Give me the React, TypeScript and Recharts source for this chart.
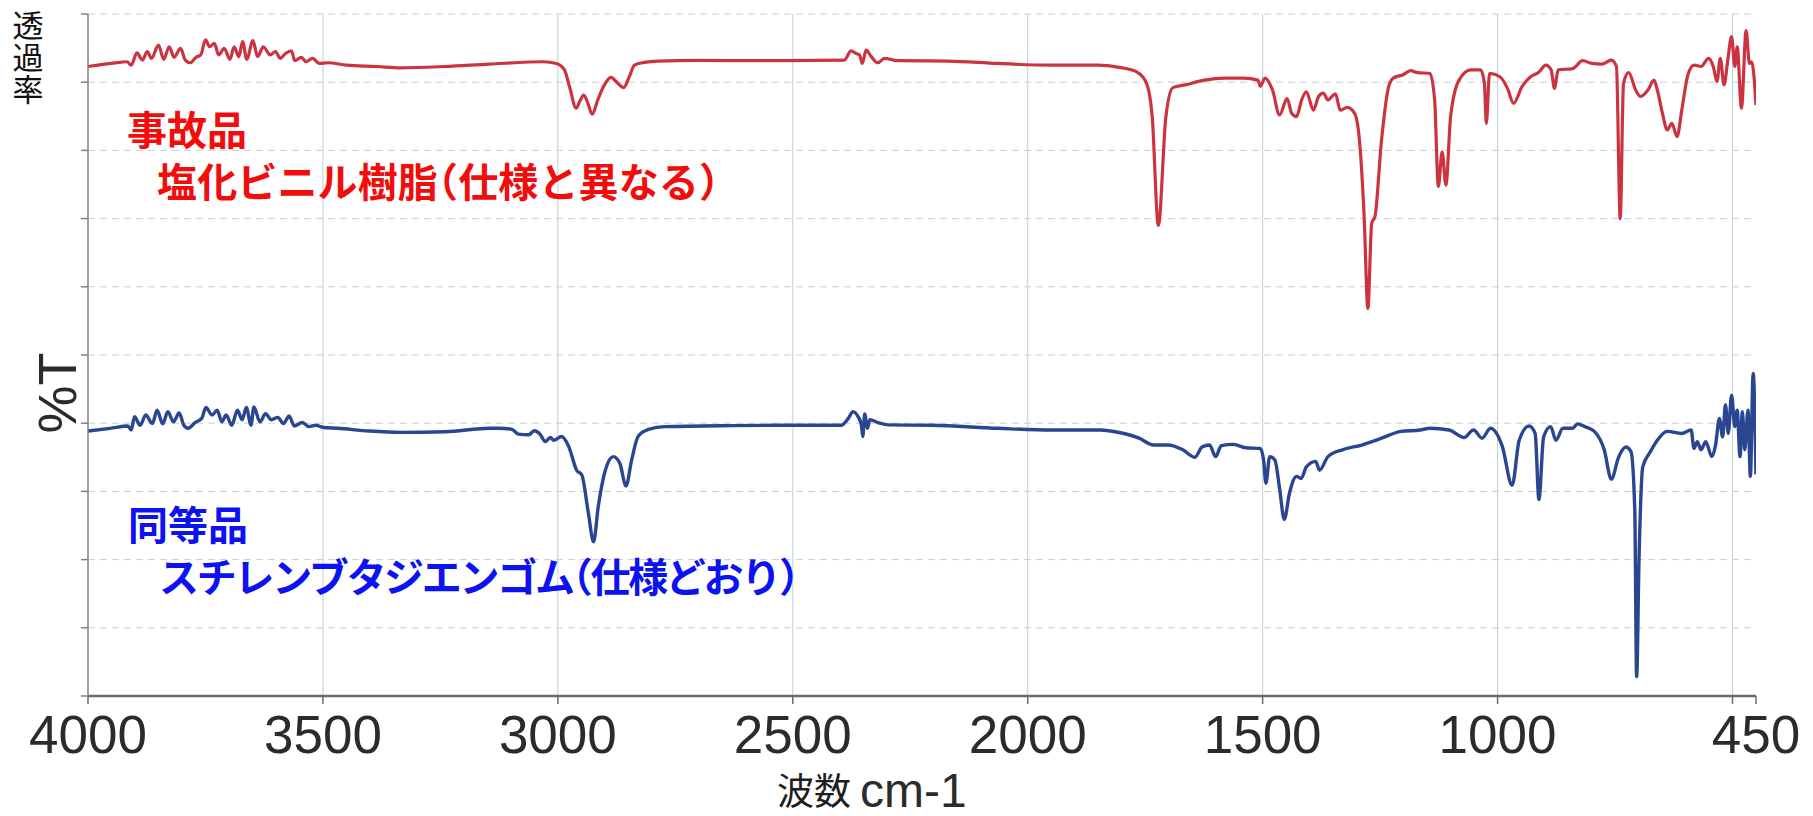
import React from 'react';
import { LineChart, Line, XAxis, YAxis, CartesianGrid, Customized } from 'recharts';

// IR transmission spectra: incident sample (PVC) and equivalent product (SBR)
const redWavenumbers = [
  4000, 3946, 3917, 3908, 3896, 3884, 3874, 3865, 3850, 3839, 3827, 3817, 3803, 3793, 3782, 3770,
  3760, 3750, 3741, 3731, 3722, 3710, 3698, 3689, 3679, 3671, 3662, 3649, 3639, 3627, 3612, 3601,
  3591, 3579, 3567, 3560, 3546, 3536, 3522, 3508, 3489, 3450, 3384, 3336, 3241, 3146, 3031, 3003,
  2986, 2975, 2961, 2954, 2945, 2936, 2927, 2915, 2901, 2887, 2872, 2860, 2848, 2837, 2816, 2787,
  2702, 2560, 2390, 2376, 2365, 2358, 2352, 2344, 2333, 2319, 2305, 2277, 2170, 2064, 1954, 1850,
  1799, 1768, 1747, 1735, 1722, 1706, 1691, 1665, 1624, 1582, 1541, 1510, 1505, 1495, 1479, 1464,
  1448, 1438, 1428, 1417, 1407, 1392, 1381, 1371, 1361, 1345, 1335, 1320, 1304, 1294, 1284, 1276,
  1268, 1261, 1247, 1232, 1222, 1201, 1185, 1170, 1144, 1134, 1126, 1118, 1110, 1100, 1082, 1057,
  1036, 1028, 1024, 1017, 995, 979, 966, 948, 933, 912, 897, 886, 879, 871, 840, 819,
  799, 778, 758, 747, 739, 732, 721, 706, 696, 680, 667, 660, 649, 639, 629, 618,
  608, 595, 582, 567, 551, 541, 533, 526, 518, 510, 502, 495, 490, 481, 471, 464,
  459, 450,
];
const redTransmittance = [
  92.3, 92.8, 93.0, 92.5, 94.3, 93.25, 94.5, 93.5, 95.45, 93.35, 95.2, 93.65, 94.95, 93.25, 92.85, 93.65,
  94.0, 96.2, 95.2, 95.7, 94.0, 94.95, 93.35, 95.2, 93.75, 95.95, 93.35, 96.1, 93.75, 95.2, 94.0, 94.5,
  93.5, 94.25, 94.6, 93.15, 93.65, 93.0, 93.5, 92.75, 92.85, 92.5, 92.3, 92.1, 92.3, 92.65, 93.0, 92.75,
  91.8, 89.3, 86.2, 87.1, 88.1, 86.9, 85.3, 87.4, 89.6, 90.7, 89.8, 89.2, 90.8, 92.5, 92.9, 93.1,
  93.2, 93.15, 93.25, 94.6, 94.2, 94.0, 92.75, 94.7, 93.75, 92.85, 93.5, 93.15, 93.1, 92.75, 92.5, 92.5,
  92.1, 91.5, 89.8, 84.9, 69.0, 84.9, 89.2, 89.6, 90.3, 90.6, 90.6, 90.3, 89.4, 90.6, 88.85, 85.2,
  87.6, 85.4, 84.95, 87.4, 88.6, 85.9, 87.9, 88.4, 87.4, 88.3, 85.9, 86.3, 85.4, 81.5, 70.3, 56.8,
  69.3, 70.3, 81.5, 89.3, 90.6, 91.1, 91.7, 91.4, 91.3, 87.4, 74.7, 79.8, 74.9, 84.95, 90.3, 91.8,
  91.8, 89.8, 83.95, 91.3, 90.8, 89.1, 86.9, 89.35, 90.6, 91.5, 92.5, 91.8, 89.1, 91.8, 92.0, 93.15,
  92.75, 92.65, 93.25, 92.3, 70.0, 89.8, 91.4, 88.85, 87.9, 88.85, 90.3, 88.85, 85.4, 83.0, 83.95, 82.0,
  85.9, 91.05, 92.5, 92.3, 93.5, 92.3, 90.1, 93.5, 89.6, 93.25, 96.7, 92.3, 95.2, 86.2, 97.55, 92.75,
  93.0, 86.65,
];

const blueWavenumbers = [
  4000, 3953, 3915, 3908, 3901, 3889, 3877, 3863, 3853, 3841, 3830, 3818, 3806, 3796, 3787, 3772,
  3758, 3749, 3736, 3725, 3715, 3706, 3694, 3682, 3672, 3663, 3653, 3647, 3634, 3622, 3610, 3596,
  3584, 3572, 3561, 3544, 3530, 3515, 3501, 3468, 3401, 3334, 3239, 3144, 3126, 3098, 3084, 3062,
  3050, 3038, 3027, 3016, 3009, 2992, 2977, 2960, 2949, 2935, 2924, 2914, 2899, 2882, 2868, 2855,
  2843, 2829, 2807, 2772, 2630, 2503, 2397, 2382, 2372, 2361, 2354, 2351, 2347, 2341, 2336, 2319,
  2297, 2205, 2064, 1948, 1845, 1814, 1763, 1732, 1701, 1670, 1644, 1629, 1613, 1600, 1588, 1562,
  1536, 1505, 1498, 1493, 1485, 1474, 1464, 1454, 1443, 1428, 1418, 1407, 1387, 1379, 1361, 1330,
  1289, 1247, 1206, 1165, 1144, 1103, 1072, 1051, 1033, 1015, 990, 969, 954, 933, 920, 912,
  902, 887, 876, 861, 840, 830, 814, 794, 773, 758, 742, 727, 716, 708, 704, 699,
  691, 675, 660, 639, 608, 588, 582, 575, 567, 557, 544, 536, 528, 521, 515, 509,
  502, 495, 490, 484, 479, 474, 467, 462, 456, 450,
];
const blueTransmittance = [
  38.85, 39.25, 39.6, 39.0, 40.95, 39.7, 41.2, 39.95, 41.9, 39.9, 41.7, 40.2, 41.5, 39.7, 39.25, 40.1,
  40.7, 42.3, 41.2, 41.9, 40.2, 41.2, 39.7, 41.9, 40.5, 42.3, 39.7, 42.4, 40.2, 41.4, 40.5, 40.85,
  39.95, 41.05, 39.6, 40.1, 39.5, 39.7, 39.4, 39.25, 38.85, 38.65, 38.75, 39.25, 39.25, 39.1, 38.4, 38.3,
  38.9, 38.4, 37.3, 37.9, 37.5, 38.05, 36.6, 33.1, 32.4, 26.8, 22.6, 27.8, 33.1, 35.1, 34.1, 30.8,
  34.6, 38.1, 39.1, 39.5, 39.65, 39.7, 39.7, 40.7, 41.7, 40.95, 39.75, 38.05, 41.35, 39.25, 40.5, 40.1,
  39.75, 39.7, 39.25, 39.0, 39.0, 38.75, 37.8, 36.8, 36.8, 36.1, 35.0, 36.5, 36.8, 35.1, 36.7, 36.9,
  36.4, 36.3, 34.6, 31.2, 35.1, 34.6, 30.45, 25.9, 29.7, 32.2, 31.9, 33.6, 34.4, 33.1, 35.1, 36.1,
  36.8, 37.8, 38.8, 39.0, 39.25, 39.0, 37.9, 39.0, 37.8, 39.25, 36.6, 30.9, 37.5, 39.6, 38.5, 28.8,
  38.0, 39.5, 37.5, 39.25, 39.25, 39.9, 39.5, 38.8, 36.1, 31.8, 35.1, 36.5, 35.8, 27.3, 2.85, 19.95,
  33.6, 35.8, 37.5, 38.8, 38.5, 39.0, 36.3, 37.3, 36.1, 37.3, 35.1, 36.8, 40.7, 38.0, 42.7, 38.5,
  44.1, 39.5, 41.9, 35.1, 41.7, 36.1, 41.9, 32.2, 47.3, 32.5,
];

const xTicks = [4000, 3500, 3000, 2500, 2000, 1500, 1000, 500, 450];
const xTickLabels = ['4000', '3500', '3000', '2500', '2000', '1500', '1000', '', '450'];
const yTicks = [0, 10, 20, 30, 40, 50, 60, 70, 80, 90, 100];
const gridWavenumbers = [3500, 3000, 2500, 2000, 1500, 1000, 500];
const gridTransmittance = [10, 20, 30, 40, 50, 60, 70, 80, 90, 100];

const redData = redWavenumbers.map((w, i) => ({ w, t: redTransmittance[i] }));
const blueData = blueWavenumbers.map((w, i) => ({ w, t: blueTransmittance[i] }));

const SANS = "'Liberation Sans', Arial, sans-serif";
const CJK = "'Noto Sans CJK JP', sans-serif";

const XTick = (props: any) => {
  const { x, y, payload } = props;
  const label = xTickLabels[xTicks.indexOf(payload.value)];
  if (!label) return null;
  return (
    <text x={x} y={y + 47} textAnchor="middle" fontSize={53} fontFamily={SANS} fill="#2b2b2b">
      {label}
    </text>
  );
};

const Annotations = () => (
  <g>
    <text
      x={28}
      y={10}
      fontSize={31}
      fontFamily={CJK}
      fill="#111"
      letterSpacing={1}
      style={{ writingMode: 'vertical-rl' }}
    >
      透過率
    </text>
    <text
      x={76}
      y={393}
      transform="rotate(-90, 76, 393)"
      textAnchor="middle"
      fontSize={54}
      fontFamily={SANS}
      fill="#2b2b2b"
    >
      %T
    </text>
    <text x={777} y={805} fontFamily={CJK} fontSize={37} fill="#1e1e1e">
      波数
      <tspan x={860} y={807} fontFamily={SANS} fontSize={48} fill="#2b2b2b">cm-1</tspan>
    </text>

    <text x={127} y={145} fontSize={40} fontWeight={700} fontFamily={CJK} fill="#f20c0c">
      事故品
    </text>
    <text
      x={157}
      y={197}
      fontSize={40}
      fontWeight={700}
      fontFamily={CJK}
      fill="#f20c0c"
      textLength={562}
      lengthAdjust="spacing"
      style={{ fontFeatureSettings: "'halt'" }}
    >
      塩化ビニル樹脂（仕様と異なる）
    </text>

    <text x={128} y={540} fontSize={40} fontWeight={700} fontFamily={CJK} fill="#0c12f0">
      同等品
    </text>
    <text
      x={159}
      y={592}
      fontSize={40}
      fontWeight={700}
      fontFamily={CJK}
      fill="#0c12f0"
      textLength={640}
      lengthAdjust="spacing"
      style={{ fontFeatureSettings: "'halt'" }}
    >
      スチレンブタジエンゴム（仕様どおり）
    </text>
  </g>
);

export default function App() {
  return (
    <div style={{ position: 'absolute', left: 0, top: 0, width: 1813, height: 816, background: '#fff' }}>
      <LineChart width={1813} height={816} margin={{ top: 14, right: 57, bottom: 0, left: 0 }}>
        <CartesianGrid
          vertical={false}
          horizontalValues={gridTransmittance}
          stroke="#c6d0d4"
          strokeDasharray="7 5"
        />
        <CartesianGrid horizontal={false} verticalValues={gridWavenumbers} stroke="#bcd1da" />
        <XAxis
          type="number"
          dataKey="w"
          domain={[450, 4000]}
          reversed
          ticks={xTicks}
          interval={0}
          tick={<XTick />}
          tickSize={8}
          height={120}
          axisLine={{ stroke: '#6a6a6a', strokeWidth: 2.5 }}
          tickLine={{ stroke: '#6a6a6a', strokeWidth: 1.5 }}
          allowDataOverflow
        />
        <YAxis
          type="number"
          domain={[0, 100]}
          ticks={yTicks}
          width={88}
          tickSize={7}
          tickFormatter={() => ''}
          axisLine={{ stroke: '#808080', strokeWidth: 1.5 }}
          tickLine={{ stroke: '#808080', strokeWidth: 1.5 }}
        />
        <Line
          data={redData}
          dataKey="t"
          type="monotoneX"
          stroke="#cc3340"
          strokeWidth={3.2}
          strokeLinejoin="round"
          dot={false}
          isAnimationActive={false}
        />
        <Line
          data={blueData}
          dataKey="t"
          type="monotoneX"
          stroke="#2a4690"
          strokeWidth={3.4}
          strokeLinejoin="round"
          dot={false}
          isAnimationActive={false}
        />
        <Customized component={Annotations} />
      </LineChart>
    </div>
  );
}
